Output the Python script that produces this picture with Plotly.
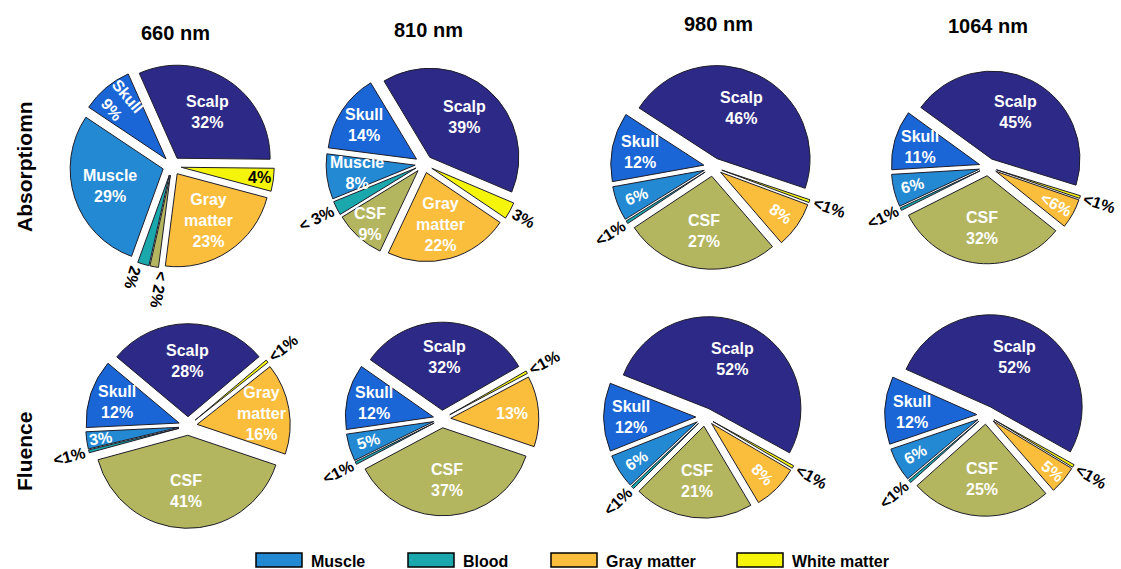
import math
import plotly.graph_objects as go

W, H = 1121, 569
FONT = "Liberation Sans, Arial, sans-serif"

# ---- data -------------------------------------------------------------
TISSUES = ["Scalp", "White matter", "Gray matter", "CSF", "Blood", "Muscle", "Skull"]
WAVELENGTHS = ["660 nm", "810 nm", "980 nm", "1064 nm"]
ROW_TITLES = ["Absorptiomn", "Fluence"]
LEGEND_ITEMS = ["Muscle", "Blood", "Gray matter", "White matter"]

absorption_660 = [32, 4, 23, 1.5, 2, 29, 9]
absorption_810 = [39, 3, 22, 9, 2.5, 8, 14]
absorption_980 = [46, 0.5, 8, 27, 0.5, 6, 12]
absorption_1064 = [45, 0.5, 5.5, 32, 0.5, 6, 11]
fluence_660 = [28, 0.5, 16, 41, 0.5, 3, 12]
fluence_810 = [32, 0.5, 13, 37, 0.5, 5, 12]
fluence_980 = [52, 0.5, 8, 21, 0.5, 6, 12]
fluence_1064 = [52, 0.5, 5, 25, 0.5, 6, 12]

absorption_660_text = ["Scalp<br>32%", "4%", "Gray<br>matter<br>23%", "< 2%", "2%", "Muscle<br>29%", "Skull<br>9%"]
absorption_810_text = ["Scalp<br>39%", "3%", "Gray<br>matter<br>22%", "CSF<br>9%", "< 3%", "Muscle<br>8%", "Skull<br>14%"]
absorption_980_text = ["Scalp<br>46%", "<1%", "8%", "CSF<br>27%", "<1%", "6%", "Skull<br>12%"]
absorption_1064_text = ["Scalp<br>45%", "<1%", "<6%", "CSF<br>32%", "<1%", "6%", "Skull<br>11%"]
fluence_660_text = ["Scalp<br>28%", "<1%", "Gray<br>matter<br>16%", "CSF<br>41%", "<1%", "3%", "Skull<br>12%"]
fluence_810_text = ["Scalp<br>32%", "<1%", "13%", "CSF<br>37%", "<1%", "5%", "Skull<br>12%"]
fluence_980_text = ["Scalp<br>52%", "<1%", "8%", "CSF<br>21%", "<1%", "6%", "Skull<br>12%"]
fluence_1064_text = ["Scalp<br>52%", "<1%", "5%", "CSF<br>25%", "<1%", "6%", "Skull<br>12%"]

# ---- styles -----------------------------------------------------------
COLORS = {
    "Scalp": "#2d2a87",
    "White matter": "#f5f50c",
    "Gray matter": "#fbbd3c",
    "CSF": "#b4b55f",
    "Blood": "#1aa8ad",
    "Muscle": "#2389d2",
    "Skull": "#1a66d6",
}
PULL = 0.1
LABEL_SIZE = 16

# label placement: in = inside horizontal, inr = inside radial,
# ink = inside dark text, out = outside radial
PLACE_A = ["in", "out", "inr", "in", "out", "inr", "in"]
PLACE_B = ["in", "out", "in", "in", "out", "inr", "in"]

# per-label tweaks: slice index -> (radius factor or None, angle shift in degrees)
TWEAK_660_ABS = {3: (None, 4), 4: (None, -3)}
TWEAK_810_ABS = {5: (0.66, 0), 3: (0.8, 0)}

# (values, texts, center x px, center y px, radius px, rotation, placement, tweaks)
PIES = [
    (absorption_660, absorption_660_text, 172, 166, 93, -24,
     ["in", "ink", "in", "out", "out", "in", "inr"], TWEAK_660_ABS),
    (absorption_810, absorption_810_text, 424, 164, 89, -31,
     ["in", "out", "in", "in", "out", "in", "in"], TWEAK_810_ABS),
    (absorption_980, absorption_980_text, 713, 167, 93, -57, PLACE_A, {}),
    (absorption_1064, absorption_1064_text, 988, 167, 88, -54, PLACE_A, {}),
    (fluence_660, fluence_660_text, 188, 426, 93, -50, PLACE_B, {}),
    (fluence_810, fluence_810_text, 442, 419, 88, -55, PLACE_B, {}),
    (fluence_980, fluence_980_text, 705, 417, 92, -68.5, PLACE_A, {}),
    (fluence_1064, fluence_1064_text, 986, 415, 92, -66, PLACE_A, {}),
]

CHAR_W = {"<": 0.584, " ": 0.278, "%": 0.889}


def text_width(s, size):
    return sum(CHAR_W.get(c, 0.556) for c in s) * size


def px(x, y):
    return x / W, 1 - y / H


def radial_angle(theta):
    ang = -theta
    while ang > 180:
        ang -= 360
    while ang <= -180:
        ang += 360
    if ang > 120:
        ang -= 180
    elif ang < -90:
        ang += 180
    return ang


def inside_k(f):
    if f >= 0.2:
        return 0.6
    if f >= 0.1:
        return 0.7
    if f >= 0.05:
        return 0.78
    return 0.85


fig = go.Figure()
annotations = []

for values, texts, cx, cy, r, rot, place, tweaks in PIES:
    half = r * (1 + PULL)
    x0, y1 = px(cx - half, cy - half)
    x1, y0 = px(cx + half, cy + half)
    fig.add_trace(go.Pie(
        values=values,
        labels=TISSUES,
        sort=False,
        direction="clockwise",
        rotation=rot,
        pull=[PULL] * len(values),
        marker=dict(colors=[COLORS[t] for t in TISSUES],
                    line=dict(color="#1e1e2a", width=1)),
        textinfo="none",
        hoverinfo="label+percent",
        showlegend=False,
        domain=dict(x=[x0, x1], y=[y0, y1]),
    ))

    total = sum(values)
    acc = 0.0
    start = 90.0 - rot
    d = PULL * r
    for i, (v, txt, code) in enumerate(zip(values, texts, place)):
        f = v / total
        theta = start - (acc + f / 2) * 360
        acc += f
        k_fix, shift = tweaks.get(i, (None, 0))
        color = "white"
        angle = 0
        if code == "out":
            dist = r + d + 4 + text_width(txt, LABEL_SIZE) / 2
            color = "black"
            angle = radial_angle(theta)
        elif code == "ink":
            dist = d + 0.85 * r
            color = "black"
        else:
            dist = d + (k_fix if k_fix is not None else inside_k(f)) * r
            if code == "inr":
                angle = radial_angle(theta)
        t = math.radians(theta + shift)
        lx, ly = px(cx + dist * math.cos(t), cy - dist * math.sin(t))
        annotations.append(dict(
            x=lx, y=ly, xref="paper", yref="paper",
            text="<b>%s</b>" % txt, showarrow=False,
            xanchor="center", yanchor="middle", textangle=angle,
            font=dict(family=FONT, size=LABEL_SIZE, color=color),
        ))

# column titles
for name, (tx, ty) in zip(WAVELENGTHS, [(175, 33), (428, 30), (718, 24), (988, 26)]):
    x, y = px(tx, ty)
    annotations.append(dict(x=x, y=y, xref="paper", yref="paper", showarrow=False,
                            text="<b>%s</b>" % name, xanchor="center", yanchor="middle",
                            font=dict(family=FONT, size=20, color="black")))

# row titles
for name, ty in zip(ROW_TITLES, [167, 451]):
    x, y = px(24, ty)
    annotations.append(dict(x=x, y=y, xref="paper", yref="paper", showarrow=False,
                            text="<b>%s</b>" % name, textangle=-90,
                            xanchor="center", yanchor="middle",
                            font=dict(family=FONT, size=21, color="black")))

# legend row
shapes = []
for name, lx in zip(LEGEND_ITEMS, [256, 408, 551, 737]):
    sx0, sy0 = px(lx, 553)
    sx1, sy1 = px(lx + 46, 567)
    shapes.append(dict(type="rect", xref="paper", yref="paper",
                       x0=sx0, x1=sx1, y0=sy1, y1=sy0,
                       fillcolor=COLORS[name], line=dict(color="black", width=1.5)))
    x, y = px(lx + 53, 561)
    annotations.append(dict(x=x, y=y, xref="paper", yref="paper", showarrow=False,
                            text="<b>%s</b>" % name, xanchor="left", yanchor="middle",
                            font=dict(family=FONT, size=16, color="black")))

fig.update_layout(
    width=W, height=H,
    margin=dict(l=0, r=0, t=0, b=0),
    paper_bgcolor="white", plot_bgcolor="white",
    annotations=annotations, shapes=shapes,
    showlegend=False,
)

fig.write_html("out.html")
